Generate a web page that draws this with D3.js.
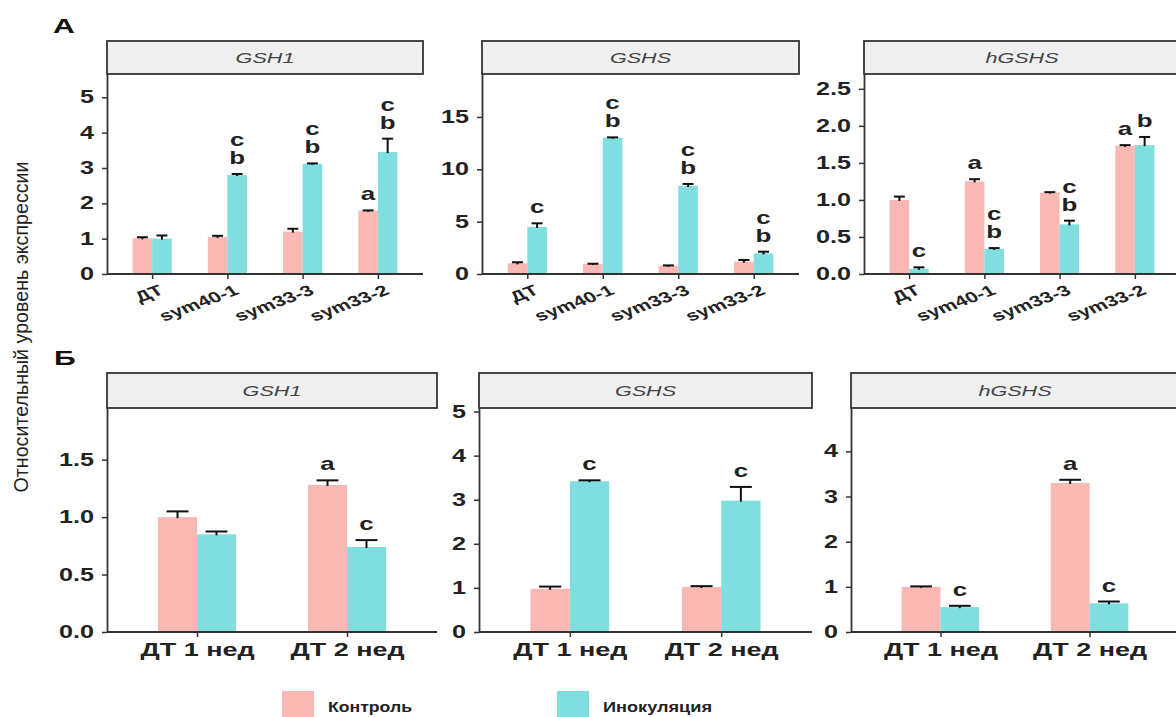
<!DOCTYPE html>
<html><head><meta charset="utf-8">
<script src="https://cdn.jsdelivr.net/npm/d3@7"></script>
<style>
html,body{margin:0;padding:0;background:#fff;}
svg{display:block;font-family:"Liberation Sans",Arial,sans-serif;}
</style></head>
<body>
<svg id="chart" width="1176" height="717"></svg>
<script>
// ---------- DATA ----------
const genes = ["GSH1", "GSHS", "hGSHS"];
const seriesNames = ["Контроль", "Инокуляция"];
const seriesColors = ["#F9B8B4", "#80DEE0"];
const linesA = ["ДТ", "sym40-1", "sym33-3", "sym33-2"];
const weeksB = ["ДТ 1 нед", "ДТ 2 нед"];

// Panel A (one row per gene)
const ctrlA    = [[1.01, 1.05, 1.20, 1.79], [1.02, 0.95, 0.79, 1.18], [1.00, 1.25, 1.10, 1.73]];
const ctrlErrA = [[0.03, 0.03, 0.08, 0.01], [0.10, 0.03, 0.03, 0.16], [0.045, 0.03, 0.005, 0.01]];
const inocA    = [[1.00, 2.80, 3.12, 3.45], [4.50, 13.02, 8.40, 1.97], [0.07, 0.34, 0.67, 1.74]];
const inocErrA = [[0.09, 0.03, 0.01, 0.38], [0.34, 0.03, 0.20, 0.16], [0.02, 0.01, 0.05, 0.11]];
const ctrlLettersA = [["", "", "", "a"], ["", "", "", ""], ["", "a", "", "a"]];
const inocLettersA = [["", "cb", "cb", "cb"], ["c", "cb", "cb", "cb"], ["c", "cb", "cb", "b"]];
const yMaxA = [5.66, 19.1, 2.70];
const yTicksA = [[0, 1, 2, 3, 4, 5], [0, 5, 10, 15], [0, 0.5, 1, 1.5, 2, 2.5]];
const yFmtA = ["d", "d", ".1f"];

// Panel B
const ctrlB    = [[1.00, 1.28], [0.98, 1.02], [1.00, 3.30]];
const ctrlErrB = [[0.05, 0.04], [0.05, 0.02], [0.01, 0.07]];
const inocB    = [[0.85, 0.74], [3.42, 2.98], [0.55, 0.635]];
const inocErrB = [[0.025, 0.06], [0.02, 0.31], [0.03, 0.04]];
const ctrlLettersB = [["", "a"], ["", ""], ["", "a"]];
const inocLettersB = [["", "c"], ["c", "c"], ["c", "c"]];
const yMaxB = [1.95, 5.08, 4.96];
const yTicksB = [[0, 0.5, 1, 1.5], [0, 1, 2, 3, 4, 5], [0, 1, 2, 3, 4]];
const yFmtB = [".1f", "d", "d"];

const yTitle = "Относительный уровень экспрессии";
const panelTags = ["А", "Б"];

// ---------- LAYOUT ----------
const SX = 1.44; // horizontal text stretch of the reference
const layoutA = {top: 74, bottom: 274, stripTop: 41, xs: [[107, 423], [482, 799], [864, 1180]], rotated: true};
const layoutB = {top: 408, bottom: 632, stripTop: 373, xs: [[107, 437], [479, 812], [851, 1179]], rotated: false};
const AX = "#333333";
const TXT = "#222222";

const svg = d3.select("#chart");

function drawPanel(L, i, cats, ctrl, ctrlErr, inoc, inocErr, ctrlL, inocL, yMax, ticks, fmt) {
  const [x0, x1] = L.xs[i];
  const g = svg.append("g");
  const x = d3.scalePoint().domain(cats).range([x0, x1]).padding(0.6);
  const y = d3.scaleLinear().domain([0, yMax]).range([L.bottom, L.top]);
  const bw = x.step() * 0.26;

  // strip
  g.append("rect").attr("x", x0).attr("y", L.stripTop).attr("width", x1 - x0).attr("height", L.top - L.stripTop)
    .attr("fill", "#EFEFEF").attr("stroke", AX).attr("stroke-width", 1.8);
  g.append("text").attr("transform", `translate(${(x0 + x1) / 2},${(L.stripTop + L.top) / 2 + 5.5}) scale(${SX},1)`)
    .attr("text-anchor", "middle").attr("font-style", "italic").attr("font-size", 15)
    .attr("fill", "#444").text(genes[i]);

  const series = [
    {vals: ctrl, errs: ctrlErr, letters: ctrlL, off: -1, color: seriesColors[0]},
    {vals: inoc, errs: inocErr, letters: inocL, off: 0, color: seriesColors[1]}
  ];
  series.forEach(s => {
    const rows = cats.map((c, k) => ({c, v: s.vals[k], e: s.errs[k], l: s.letters[k]}));
    g.selectAll(null).data(rows).enter().append("rect")
      .attr("x", d => x(d.c) + s.off * bw).attr("width", bw)
      .attr("y", d => y(d.v)).attr("height", d => y(0) - y(d.v))
      .attr("fill", s.color);
    // error bars (upper)
    const eb = g.selectAll(null).data(rows).enter().append("g");
    eb.append("line")
      .attr("x1", d => x(d.c) + s.off * bw + bw / 2).attr("x2", d => x(d.c) + s.off * bw + bw / 2)
      .attr("y1", d => y(d.v) + 1).attr("y2", d => y(d.v + d.e))
      .attr("stroke", "#111").attr("stroke-width", 2);
    eb.append("line")
      .attr("x1", d => x(d.c) + s.off * bw + bw / 2 - bw * 0.28).attr("x2", d => x(d.c) + s.off * bw + bw / 2 + bw * 0.28)
      .attr("y1", d => y(d.v + d.e)).attr("y2", d => y(d.v + d.e))
      .attr("stroke", "#111").attr("stroke-width", 2);
    // letters
    rows.forEach(d => {
      const chars = d.l.split("");
      const n = chars.length;
      chars.forEach((ch, j) => {
        const by = y(d.v + d.e) - 10 - (n - 1 - j) * 18;
        g.append("text").attr("transform", `translate(${x(d.c) + s.off * bw + bw / 2},${by}) scale(${SX},1)`)
          .attr("text-anchor", "middle").attr("font-size", 18).attr("font-weight", "bold")
          .attr("fill", TXT).text(ch);
      });
    });
  });

  // y axis
  const ya = g.append("g").attr("transform", `translate(${x0},0)`)
    .call(d3.axisLeft(y).tickValues(ticks).tickFormat(d3.format(fmt)).tickSize(5).tickSizeOuter(0).tickPadding(8));
  ya.select(".domain").attr("stroke", AX).attr("stroke-width", 1.8);
  ya.selectAll(".tick line").attr("stroke", AX).attr("stroke-width", 1.5);
  ya.selectAll(".tick text").attr("x", -13 / SX).attr("transform", `scale(${SX},1)`)
    .attr("font-size", 17.5).attr("font-weight", "bold").attr("fill", TXT)
    .attr("font-family", "Liberation Sans, Arial, sans-serif");

  // x axis
  const xa = g.append("g").attr("transform", `translate(0,${L.bottom})`)
    .call(d3.axisBottom(x).tickSize(5).tickSizeOuter(0));
  xa.select(".domain").attr("stroke", AX).attr("stroke-width", 1.8)
    .attr("d", `M${x0},0H${x1}`);
  xa.selectAll(".tick line").attr("stroke", AX).attr("stroke-width", 1.5);
  const xt = xa.selectAll(".tick text").attr("font-family", "Liberation Sans, Arial, sans-serif")
    .attr("fill", TXT).attr("font-weight", "bold");
  if (L.rotated) {
    xt.attr("x", 0).attr("y", 0).attr("dy", "0.72em").attr("text-anchor", "end")
      .attr("font-size", 15)
      .attr("transform", `translate(5,10) scale(${SX},1) rotate(-28)`);
  } else {
    xt.attr("x", 0).attr("y", 0).attr("dy", 0).attr("text-anchor", "middle")
      .attr("font-size", 19)
      .attr("transform", `translate(0,24) scale(1.42,1)`);
  }
}

genes.forEach((gn, i) => {
  drawPanel(layoutA, i, linesA, ctrlA[i], ctrlErrA[i], inocA[i], inocErrA[i], ctrlLettersA[i], inocLettersA[i], yMaxA[i], yTicksA[i], yFmtA[i]);
  drawPanel(layoutB, i, weeksB, ctrlB[i], ctrlErrB[i], inocB[i], inocErrB[i], ctrlLettersB[i], inocLettersB[i], yMaxB[i], yTicksB[i], yFmtB[i]);
});

// panel tags
svg.append("text").attr("transform", `translate(53,33) scale(${SX},1)`).attr("font-size", 21)
  .attr("font-weight", "bold").attr("fill", "#111").text(panelTags[0]);
svg.append("text").attr("transform", `translate(54,365) scale(${SX},1)`).attr("font-size", 21)
  .attr("font-weight", "bold").attr("fill", "#111").text(panelTags[1]);

// y title
svg.append("text").attr("transform", "translate(21,327) rotate(-90)")
  .attr("text-anchor", "middle").attr("dy", "0.35em").attr("font-size", 19.5)
  .attr("fill", TXT).attr("textLength", 331).attr("lengthAdjust", "spacingAndGlyphs").text(yTitle);

// legend
const legX = [282, 557];
const legLen = [84, 109];
seriesNames.forEach((nm, k) => {
  svg.append("rect").attr("x", legX[k]).attr("y", 691).attr("width", 32).attr("height", 30).attr("fill", seriesColors[k]);
  svg.append("text").attr("x", legX[k] + 46).attr("y", 712).attr("font-size", 15.5).attr("font-weight", "bold")
    .attr("fill", TXT).attr("textLength", legLen[k]).attr("lengthAdjust", "spacingAndGlyphs").text(nm);
});
</script>
</body></html>
